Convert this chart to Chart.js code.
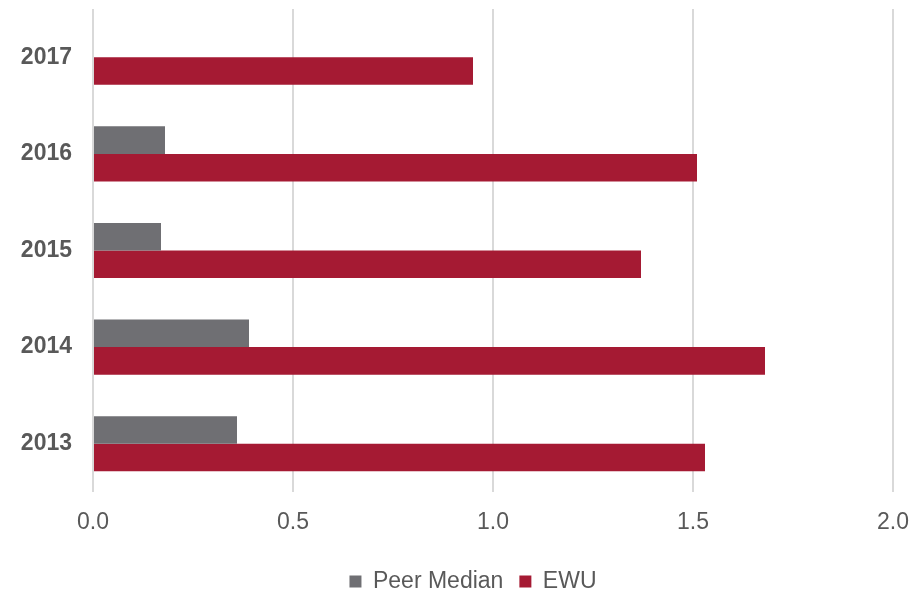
<!DOCTYPE html>
<html>
<head>
<meta charset="utf-8">
<script src="https://cdn.jsdelivr.net/npm/chart.js@4"></script>
<style>
    body { margin: 0; background: #fff; }
    #wrap { width: 918px; height: 615px; }
</style>
</head>
<body>
<div id="wrap"><canvas id="ratioChart" width="918" height="615"></canvas></div>
<script>
const years = ['2017', '2016', '2015', '2014', '2013'];
const peerMedian = [null, 0.18, 0.17, 0.39, 0.36];
const ewu = [0.95, 1.51, 1.37, 1.68, 1.53];
const xTicks = [0, 0.5, 1.0, 1.5, 2.0];

const labelColor = '#595959';
const fontFamily = 'Arial, "Liberation Sans", sans-serif';

// nudge the legend a little left of the plot centre, like the original
const legendShift = {
    id: 'legendShift',
    afterLayout(chart) {
        if (!chart.legend) return;
        chart.legend.left -= 20;
        chart.legend.right -= 20;
    }
};

const ctx = document.getElementById('ratioChart').getContext('2d');
const chart = new Chart(ctx, {
    type: 'bar',
    data: {
        labels: years,
        datasets: [
            { label: 'Peer Median', data: peerMedian, backgroundColor: '#6f6f73' },
            { label: 'EWU', data: ewu, backgroundColor: '#a51a33' }
        ]
    },
    options: {
        indexAxis: 'y',
        responsive: false,
        animation: false,
        categoryPercentage: 0.57,
        barPercentage: 1.0,
        layout: { padding: { top: 9, right: 25, left: 0, bottom: 12 } },
        scales: {
            x: {
                min: xTicks[0],
                max: xTicks[xTicks.length - 1],
                afterBuildTicks: axis => { axis.ticks = xTicks.map(v => ({ value: v })); },
                afterFit: axis => {
                    axis.height = 62;
                    axis.paddingLeft = 0;
                    axis.paddingRight = 0;
                },
                grid: { color: '#d9d9d9', lineWidth: 2, drawTicks: false },
                border: { display: false },
                ticks: {
                    padding: 17,
                    color: labelColor,
                    font: { family: fontFamily, size: 23 },
                    callback: v => Number(v).toFixed(1)
                }
            },
            y: {
                afterFit: axis => {
                    axis.width = 93;
                    axis.paddingTop = 0;
                    axis.paddingBottom = 0;
                },
                grid: { display: false, drawTicks: false },
                border: { display: false },
                ticks: {
                    padding: 21,
                    color: labelColor,
                    font: { family: fontFamily, size: 23, weight: 'bold' }
                }
            }
        },
        plugins: {
            legend: {
                position: 'bottom',
                fullSize: false,
                labels: {
                    boxWidth: 12,
                    boxHeight: 12,
                    padding: 16,
                    color: labelColor,
                    font: { family: fontFamily, size: 23 }
                }
            },
            tooltip: { enabled: false }
        }
    },
    plugins: [legendShift]
});
</script>
</body>
</html>
